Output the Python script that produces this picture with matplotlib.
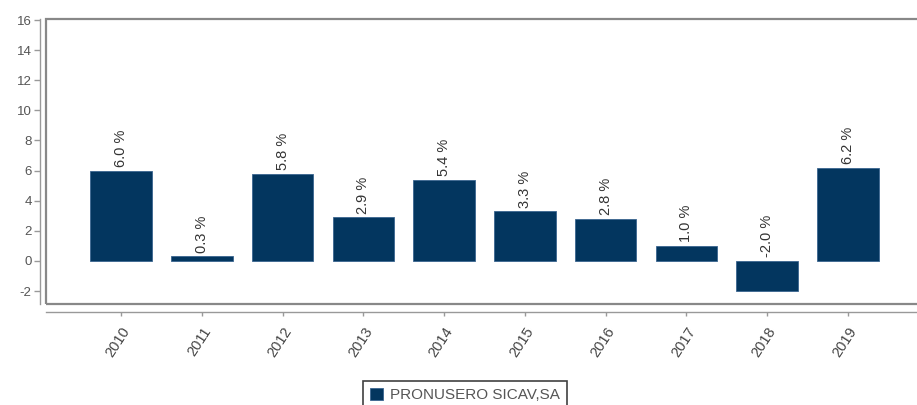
import matplotlib
matplotlib.use("Agg")
import matplotlib.pyplot as plt
from matplotlib.patches import Rectangle

plt.rcParams['font.family'] = ['Liberation Sans', 'DejaVu Sans']

years = ['2010', '2011', '2012', '2013', '2014', '2015', '2016', '2017', '2018', '2019']
values = [6.0, 0.3, 5.8, 2.9, 5.4, 3.3, 2.8, 1.0, -2.0, 6.2]
yticks = [-2, 0, 2, 4, 6, 8, 10, 12, 14, 16]
series_name = 'PRONUSERO SICAV,SA'

W, H = 917, 405
fig = plt.figure(figsize=(W / 100, H / 100), dpi=100)
left, right, top, bottom = 46, 923, 19, 304
ax = fig.add_axes([left / W, 1 - bottom / H, (right - left) / W, (bottom - top) / H])

bar_color = '#03365f'
x = list(range(len(years)))
bars = ax.bar(x, values, width=0.76, color=bar_color, edgecolor='#3a6590', linewidth=0.6,
              label=series_name, zorder=3)

ax.set_xlim(-0.93, 9.93)
ax.set_ylim(-2.86, 16.07)

for xi, v in zip(x, values):
    base = max(v, 0)
    ax.annotate(f'{v:.1f} %', xy=(xi, base), xytext=(0, 2.5), textcoords='offset points',
                rotation=90, ha='center', va='bottom', fontsize=10.5, color='#333333')

# spines
for s in ['top', 'right']:
    ax.spines[s].set_visible(False)
ax.spines['left'].set_position(('outward', 4.3))
ax.spines['bottom'].set_position(('outward', 5.8))
for s in ['left', 'bottom']:
    ax.spines[s].set_color('#999999')
    ax.spines[s].set_linewidth(1.0)

# frame box
ax.add_patch(Rectangle((0, 0), 1, 1, transform=ax.transAxes, fill=False,
                       edgecolor='#888888', linewidth=1.6, clip_on=False, zorder=5))

ax.set_yticks(yticks)
ax.set_yticklabels([str(t) for t in yticks])
ax.set_xticks(x)
ax.set_xticklabels(years, rotation=57, ha='right', rotation_mode='anchor')
ax.tick_params(axis='y', colors='#999999', labelcolor='#555555', labelsize=9.5, length=4, width=1, pad=2)
ax.tick_params(axis='x', colors='#999999', labelcolor='#444444', labelsize=10.5, length=3, width=1, pad=6)

leg = fig.legend(handles=[bars], labels=[series_name], loc='upper center',
                 bbox_to_anchor=(465 / W, 1 - 373 / H), frameon=True, fancybox=False,
                 fontsize=11, handlelength=0.85, handleheight=0.85, handletextpad=0.5,
                 borderpad=0.45, labelcolor='#555555')
leg.get_frame().set_edgecolor('#111111')
leg.get_frame().set_linewidth(1.2)

fig.savefig('out.png', dpi=100)
